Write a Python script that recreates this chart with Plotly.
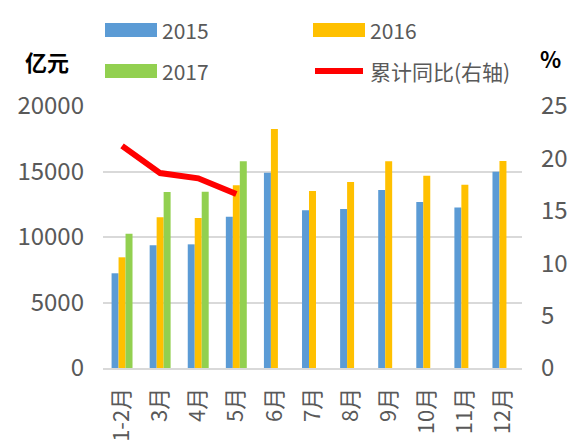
import plotly.graph_objects as go

months = ["1-2月", "3月", "4月", "5月", "6月", "7月", "8月", "9月", "10月", "11月", "12月"]
v2015 = [7230, 9370, 9440, 11550, 14910, 12040, 12140, 13590, 12670, 12260, 14990]
v2016 = [8450, 11500, 11450, 13950, 18240, 13510, 14200, 15780, 14680, 13990, 15800]
v2017 = [10250, 13430, 13460, 15780, None, None, None, None, None, None, None]
yoy = [21.2, 18.6, 18.1, 16.6]
series_names = ["2015", "2016", "2017", "累计同比(右轴)"]

C15, C16, C17, CL = "#5B9BD5", "#FFC000", "#92D050", "#FF0000"
FONT = "Noto Sans CJK SC, Open Sans, sans-serif"
GRAY = "#595959"

W, H = 582, 443
L, R, T, B = 103, 60, 106, 75
PW, PH = W - L - R, H - T - B


def px(xp):
    return (xp - L) / PW


def py(yp):
    return (H - B - yp) / PH


fig = go.Figure()
for name, vals, col in zip(series_names[:3], [v2015, v2016, v2017], [C15, C16, C17]):
    fig.add_trace(go.Bar(x=months, y=vals, name=name, marker_color=col,
                         marker_line_width=0, showlegend=False))
fig.add_trace(go.Scatter(x=months[:len(yoy)], y=yoy, yaxis="y2", mode="lines",
                         line=dict(color=CL, width=6), showlegend=False, name=series_names[3]))

# manual legend (wide swatches like the original)
shapes = []
annotations = []
legend_items = [
    (series_names[0], C15, 105, 30, "bar"),
    (series_names[1], C16, 313, 30, "bar"),
    (series_names[2], C17, 105, 71, "bar"),
    (series_names[3], CL, 313, 71, "line"),
]
for name, col, x0, yc, kind in legend_items:
    if kind == "bar":
        shapes.append(dict(type="rect", xref="paper", yref="paper",
                           x0=px(x0), x1=px(x0 + 52), y0=py(yc + 7), y1=py(yc - 7),
                           fillcolor=col, line=dict(width=0)))
    else:
        shapes.append(dict(type="line", xref="paper", yref="paper",
                           x0=px(x0 + 2), x1=px(x0 + 50), y0=py(yc), y1=py(yc),
                           line=dict(color=col, width=6)))
    annotations.append(dict(text=name, xref="paper", yref="paper", x=px(x0 + 55), y=py(yc),
                            xanchor="left", yanchor="middle", showarrow=False,
                            font=dict(size=21, color=GRAY, family=FONT)))

annotations += [
    dict(text="<b>亿元</b>", xref="paper", yref="paper", x=px(47), y=py(61),
         xanchor="center", yanchor="middle", showarrow=False,
         font=dict(size=22, color="black", family=FONT)),
    dict(text="<b>%</b>", xref="paper", yref="paper", x=px(550), y=py(58),
         xanchor="center", yanchor="middle", showarrow=False,
         font=dict(size=22, color="black", family=FONT)),
]

fig.update_layout(
    width=W, height=H,
    margin=dict(l=L, r=R, t=T, b=B, autoexpand=False),
    plot_bgcolor="white", paper_bgcolor="white",
    font=dict(family=FONT, color=GRAY, size=22),
    barmode="group", bargap=0.45, bargroupgap=0,
    showlegend=False,
    xaxis=dict(type="category", tickangle=-90, showgrid=False, showline=True,
               linecolor="#D9D9D9", linewidth=2, ticks="", ticklabelstandoff=9,
               automargin=False, tickfont=dict(size=22, color=GRAY)),
    yaxis=dict(range=[0, 20000], dtick=5000, tickformat="d", showgrid=True,
               gridcolor="#D9D9D9", gridwidth=2, zeroline=False, ticks="",
               ticklabelstandoff=18, automargin=False,
               tickfont=dict(size=24, color=GRAY)),
    yaxis2=dict(range=[0, 25], dtick=5, overlaying="y", side="right", showgrid=False,
                zeroline=False, ticks="", ticklabelstandoff=18, automargin=False,
                tickfont=dict(size=24, color=GRAY)),
    shapes=shapes,
    annotations=annotations,
)

fig.write_html("out.html", config={"displayModeBar": False},
               post_script="document.body.style.margin='0';document.body.style.overflow='hidden';")
